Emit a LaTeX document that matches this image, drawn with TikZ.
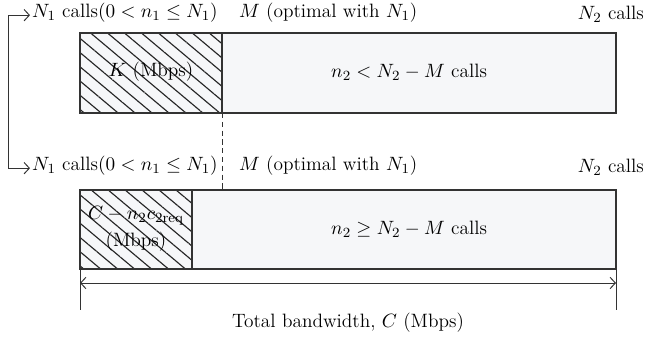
\documentclass[tikz,border=0pt]{standalone}
\usetikzlibrary{patterns.meta, arrows.meta}
\definecolor{barfill}{RGB}{246,247,249}
\tikzset{
    bar/.style = {draw = black!80, line width = 0.8pt},
    hatch/.style = {pattern = {Lines[angle = -40, distance = 6.2pt, line width = 0.65pt]}, pattern color = black!85},
    callslabel/.style = {anchor = base west, inner sep = 1pt},
    dimline/.style = {black!80, line width = 0.55pt, >={Straight Barb[length = 3pt, width = 6.5pt]}}
}
\begin{document}
\begin{tikzpicture}[font = \fontsize{11}{15.5}\selectfont, every text node part/.style = {align = center}]
        \useasboundingbox (0, 0) rectangle (12.92, -6.82);
        % first case: K reserved
        \fill[fill = barfill]
            (1.6, -0.66)
            rectangle
            (12.32, -2.26);
            \fill[hatch]
                (1.6, -0.66)
                rectangle
                (4.44, -2.26);
            \draw[bar]
                (1.6, -0.66) rectangle (4.44, -2.26);
            \draw[bar]
                (4.44, -0.66) rectangle (12.32, -2.26);
            \coordinate (kcorner) at (4.44, -2.26);
            \node (klabel) at (3.02, -1.44) {$K$ (Mbps)};
            \node (ntop) at (6.5, -1.44) [anchor = west] {$n_2 < N_2 - M$ calls};
        \node[callslabel] (topcalls) at (0.6, -0.36) {$N_1$ calls$(0 < n_1 \le N_1)$};
        \node[callslabel] (topm) at (4.74, -0.36) {$M$ (optimal with $N_1$)};
        \node[anchor = base east, inner sep = 1pt] (topntwo) at (12.92, -0.4) {$N_2$ calls};
        % second case: remaining bandwidth
        \fill[fill = barfill]
            (1.6, -3.8)
            rectangle
            (12.32, -5.38);
            \fill[hatch]
                (1.6, -3.8)
                rectangle
                (3.84, -5.38);
            \draw[bar]
                (1.6, -3.8) rectangle (3.84, -5.38);
            \draw[bar]
                (3.84, -3.8) rectangle (12.32, -5.38);
            \coordinate (cut) at (4.44, -3.8);
            \node (clabel) at (2.72, -4.58) {$C - n_2c_{2\mathrm{req}}$\\(Mbps)};
            \node (nbot) at (6.5, -4.58) [anchor = west] {$n_2 \ge N_2 - M$ calls};
        \node[callslabel] (botcalls) at (0.6, -3.42) {$N_1$ calls$(0 < n_1 \le N_1)$};
        \node[callslabel] (botm) at (4.74, -3.42) {$M$ (optimal with $N_1$)};
        \node[anchor = base east, inner sep = 1pt] (botntwo) at (12.92, -3.46) {$N_2$ calls};
        \coordinate (bend) at (0.16, -1.8);
        \draw[->, dimline]
            (bend) |- ([yshift = 1.6pt]topcalls.base west);
        \draw[->, dimline]
            (bend) |- ([yshift = 1.6pt]botcalls.base west);
        \draw[dimline, dashed, dash pattern = on 3pt off 2pt]
            (kcorner) -- (cut);
        % total bandwidth
        \coordinate (tickl) at (1.6, -6.2);
        \coordinate (tickr) at (12.32, -6.2);
        \draw[dimline] (1.6, -5.38) -- (tickl);
        \draw[dimline] (12.32, -5.38) -- (tickr);
        \draw[<->, dimline]
            ([yshift = 0.54cm]tickl) -- ([yshift = 0.54cm]tickr);
        \node (total) at (6.96, -6.46) {Total bandwidth, $C$ (Mbps)};
    \end{tikzpicture}
\end{document}
